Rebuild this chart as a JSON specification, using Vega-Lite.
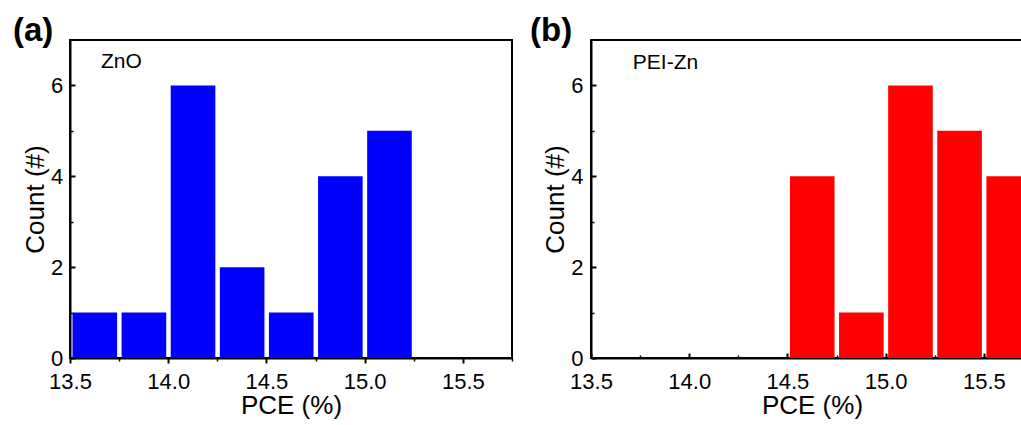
{
  "$schema": "https://vega.github.io/schema/vega-lite/v6.json",
  "padding": {"left": 12, "top": 14, "right": 0, "bottom": 0},
  "bounds": "flush",
  "spacing": 79,
  "datasets": {
    "zno": [
      {"x0": 13.5, "x1": 13.75, "n": 1},
      {"x0": 13.75, "x1": 14.0, "n": 1},
      {"x0": 14.0, "x1": 14.25, "n": 6},
      {"x0": 14.25, "x1": 14.5, "n": 2},
      {"x0": 14.5, "x1": 14.75, "n": 1},
      {"x0": 14.75, "x1": 15.0, "n": 4},
      {"x0": 15.0, "x1": 15.25, "n": 5}
    ],
    "pei": [
      {"x0": 14.5, "x1": 14.75, "n": 4},
      {"x0": 14.75, "x1": 15.0, "n": 1},
      {"x0": 15.0, "x1": 15.25, "n": 6},
      {"x0": 15.25, "x1": 15.5, "n": 5},
      {"x0": 15.5, "x1": 15.75, "n": 4}
    ],
    "labA": [{"x": 13.658, "y": 6.39, "t": "ZnO"}],
    "labB": [{"x": 13.713, "y": 6.36, "t": "PEI-Zn"}]
  },
  "hconcat": [
    {
      "width": 442,
      "height": 318,
      "title": {"text": "(a)", "anchor": "start", "frame": "group", "fontSize": 33, "fontWeight": "bold", "dx": -57, "offset": -8, "color": "black"},
      "resolve": {"axis": {"x": "independent", "y": "independent"}},
      "layer": [
        {
          "data": {"name": "zno"},
          "mark": {"type": "bar", "color": "#0000FF", "xOffset": 2.5, "x2Offset": -2},
          "encoding": {
            "x": {"field": "x0", "type": "quantitative", "title": "PCE (%)",
              "scale": {"domain": [13.5, 15.75], "nice": false, "zero": false},
              "axis": {"orient": "bottom", "values": [13.5, 14, 14.5, 15, 15.5], "format": ".1f", "tickSize": 5, "tickWidth": 2, "labelPadding": 8.4, "titlePadding": 0}},
            "x2": {"field": "x1"},
            "y": {"field": "n", "type": "quantitative", "title": "Count (#)",
              "scale": {"domain": [0, 7], "nice": false},
              "axis": {"orient": "left", "values": [0, 2, 4, 6], "tickSize": -5, "tickWidth": 2, "labelPadding": 12.3, "titlePadding": 2}},
            "y2": {"datum": 0}
          }
        },
        {
          "data": {"name": "zno"},
          "mark": {"type": "point", "opacity": 0},
          "encoding": {
            "x": {"field": "x0", "type": "quantitative",
              "scale": {"domain": [13.5, 15.75], "nice": false, "zero": false},
              "axis": {"orient": "bottom", "values": [13.75, 14.25, 14.75, 15.25, 15.75], "labels": false, "domain": false, "title": null, "tickSize": 3, "tickWidth": 1.5}},
            "y": {"field": "n", "type": "quantitative",
              "scale": {"domain": [0, 7], "nice": false},
              "axis": {"orient": "left", "values": [1, 3, 5], "labels": false, "domain": false, "title": null, "tickSize": -3, "tickWidth": 1.5}}
          }
        },
        {
          "data": {"name": "labA"},
          "mark": {"type": "text", "fontSize": 21, "align": "left", "baseline": "alphabetic", "color": "black"},
          "encoding": {
            "x": {"field": "x", "type": "quantitative", "axis": null},
            "y": {"field": "y", "type": "quantitative", "axis": null},
            "text": {"field": "t"}
          }
        }
      ]
    },
    {
      "width": 442,
      "height": 318,
      "title": {"text": "(b)", "anchor": "start", "frame": "group", "fontSize": 33, "fontWeight": "bold", "dx": -61, "offset": -8, "color": "black"},
      "resolve": {"axis": {"x": "independent", "y": "independent"}},
      "layer": [
        {
          "data": {"name": "pei"},
          "mark": {"type": "bar", "color": "#FF0000", "xOffset": 2.5, "x2Offset": -2},
          "encoding": {
            "x": {"field": "x0", "type": "quantitative", "title": "PCE (%)",
              "scale": {"domain": [13.5, 15.75], "nice": false, "zero": false},
              "axis": {"orient": "bottom", "values": [13.5, 14, 14.5, 15, 15.5], "format": ".1f", "tickSize": -5, "tickWidth": 2, "labelPadding": 18.4, "titlePadding": 0}},
            "x2": {"field": "x1"},
            "y": {"field": "n", "type": "quantitative", "title": "Count (#)",
              "scale": {"domain": [0, 7], "nice": false},
              "axis": {"orient": "left", "values": [0, 2, 4, 6], "tickSize": -5, "tickWidth": 2, "labelPadding": 13, "titlePadding": 2}},
            "y2": {"datum": 0}
          }
        },
        {
          "data": {"name": "pei"},
          "mark": {"type": "point", "opacity": 0},
          "encoding": {
            "x": {"field": "x0", "type": "quantitative",
              "scale": {"domain": [13.5, 15.75], "nice": false, "zero": false},
              "axis": {"orient": "bottom", "values": [13.75, 14.25, 14.75, 15.25, 15.75], "labels": false, "domain": false, "title": null, "tickSize": -3, "tickWidth": 1.5}},
            "y": {"field": "n", "type": "quantitative",
              "scale": {"domain": [0, 7], "nice": false},
              "axis": {"orient": "left", "values": [1, 3, 5], "labels": false, "domain": false, "title": null, "tickSize": -3, "tickWidth": 1.5}}
          }
        },
        {
          "data": {"name": "labB"},
          "mark": {"type": "text", "fontSize": 21, "align": "left", "baseline": "alphabetic", "color": "black"},
          "encoding": {
            "x": {"field": "x", "type": "quantitative", "axis": null},
            "y": {"field": "y", "type": "quantitative", "axis": null},
            "text": {"field": "t"}
          }
        }
      ]
    }
  ],
  "config": {
    "font": "Liberation Sans",
    "view": {"stroke": "black", "strokeWidth": 2},
    "axis": {
      "grid": false,
      "domainColor": "black",
      "domainWidth": 2,
      "tickColor": "black",
      "labelColor": "black",
      "titleColor": "black",
      "labelFontSize": 22,
      "titleFontSize": 26,
      "titleFontWeight": "normal",
      "labelFlush": false,
      "labelOverlap": false,
      "labelBound": false
    }
  }
}
